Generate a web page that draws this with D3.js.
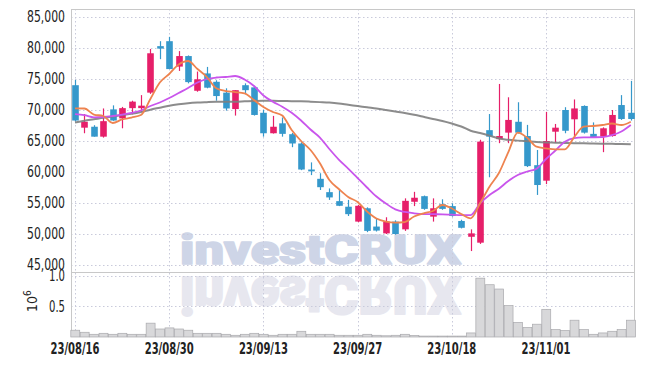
<!DOCTYPE html>
<html>
<head>
<meta charset="utf-8">
<script src="https://cdn.jsdelivr.net/npm/d3@7"></script>
<style>
  body { margin: 0; background: #fff; }
  svg { display: block; }
  .tick-label { font-family: "Liberation Sans Narrow", "DejaVu Sans Condensed", sans-serif; font-size: 15px; fill: #222; }
</style>
</head>
<body>
<svg></svg>
<script>
// trading days shown (yy/mm/dd)
const dates = [
  "23/08/16", "23/08/17", "23/08/18", "23/08/21", "23/08/22", "23/08/23", "23/08/24", "23/08/25", "23/08/28", "23/08/29",
  "23/08/30", "23/08/31", "23/09/01", "23/09/04", "23/09/05", "23/09/06", "23/09/07", "23/09/08", "23/09/11", "23/09/12",
  "23/09/13", "23/09/14", "23/09/15", "23/09/18", "23/09/19", "23/09/20", "23/09/21", "23/09/22", "23/09/25", "23/09/26",
  "23/09/27", "23/10/04", "23/10/05", "23/10/06", "23/10/10", "23/10/11", "23/10/12", "23/10/13", "23/10/16", "23/10/17",
  "23/10/18", "23/10/19", "23/10/20", "23/10/23", "23/10/24", "23/10/25", "23/10/26", "23/10/27", "23/10/30", "23/10/31",
  "23/11/01", "23/11/02", "23/11/03", "23/11/06", "23/11/07", "23/11/08", "23/11/09", "23/11/10", "23/11/13", "23/11/14"
];

const opens = [
  74000, 67150, 67300, 65700, 70100, 68650, 70300, 70300, 72800, 80300,
  81100, 77000, 78700, 73100, 75900, 74550, 72800, 70150, 74000, 73650,
  69550, 66250, 67850, 66100, 64600, 60400, 58900, 56750, 55300, 54400,
  52000, 54150, 51200, 50100, 52000, 50750, 55200, 56100, 52800, 54800,
  54500, 52100, 49550, 48600, 66750, 65300, 66350, 68100, 65800, 61100,
  58600, 66500, 70000, 68500, 70650, 66150, 65700, 65800, 70800, 69550
];
const highs = [
  74850, 69350, 67550, 70250, 70750, 70500, 71500, 72400, 79850, 81100,
  81800, 79500, 78800, 76200, 76950, 74800, 73500, 73200, 74300, 73900,
  70000, 69050, 68800, 66300, 64800, 61550, 59800, 57350, 57100, 55500,
  54700, 54300, 52500, 52700, 52200, 55750, 56800, 56200, 55750, 55600,
  54950, 52300, 50750, 65200, 69350, 74200, 72050, 71250, 67600, 63550,
  69700, 67750, 70450, 71700, 70750, 68000, 67200, 70000, 72400, 74700
];
const lows = [
  68150, 66250, 65700, 65550, 68250, 67050, 69300, 69700, 72600, 78200,
  76600, 76300, 74300, 72950, 73500, 71500, 69900, 69100, 72700, 69100,
  65700, 66200, 65700, 64000, 60300, 59500, 57100, 55500, 54500, 52900,
  51900, 50300, 50400, 50000, 49900, 50500, 54500, 53900, 52000, 53900,
  52800, 50900, 47250, 48400, 59150, 64650, 64650, 66200, 60800, 56300,
  58050, 64700, 66250, 65700, 66200, 65500, 63200, 65700, 68400, 68300
];
const closes = [
  68300, 68100, 65700, 68200, 68300, 70300, 71350, 70700, 79150, 79900,
  76600, 78700, 74500, 74950, 73600, 72250, 70250, 73200, 73200, 69200,
  66250, 67300, 66150, 64600, 60400, 60100, 57550, 55900, 54550, 53200,
  54550, 50500, 50550, 52000, 50000, 55350, 55850, 54050, 54150, 54050,
  52900, 51000, 50100, 64900, 65700, 65800, 68400, 66350, 60950, 57900,
  65000, 67150, 66650, 70250, 66350, 65600, 67050, 69200, 68550, 68550
];

// moving averages as drawn (5, 10 and 60 day)
const ma5 = [
  70270, 70240, 69270, 69030, 67900, 68470, 68790, 69190, 71770, 74430,
  75810, 77340, 77900, 76610, 75320, 73500, 73060, 72900, 72690, 71610,
  70480, 69680, 69110, 66770, 65000, 63550, 61400, 58710, 57260, 55970,
  55160, 53630, 52500, 52010, 51850, 51930, 52820, 53340, 53710, 54680,
  54110, 53220, 52530, 54950, 57630, 59840, 63220, 66340, 65520, 64080,
  63820, 63660, 63660, 65640, 67310, 67420, 67580, 67820, 67580, 68110
];
const ma10 = [
  69350, 69160, 68820, 68870, 69030, 69240, 69520, 69920, 70640, 71210,
  71930, 72740, 73550, 74430, 75000, 75240, 75320, 75480, 74920, 73870,
  72340, 71340, 70530, 69560, 68310, 66850, 65560, 63710, 62010, 60560,
  59030, 57500, 56050, 54920, 53980, 53550, 53340, 53220, 53190, 53170,
  53110, 53060, 53060, 54950, 56290, 57310, 58550, 59510, 60080, 60530,
  62100, 63470, 64890, 65480, 65580, 65600, 65640, 65930, 66530, 67580
];
const ma60 = [
  67980, 68270, 68500, 68740, 68950, 69190, 69400, 69680, 70050, 70370,
  70690, 70920, 71100, 71210, 71270, 71320, 71340, 71350, 71400, 71450,
  71480, 71480, 71450, 71430, 71400, 71340, 71270, 71190, 71050, 70840,
  70640, 70430, 70230, 70000, 69760, 69520, 69240, 68900, 68550, 68230,
  67820, 67340, 66660, 66290, 65870, 65400, 65190, 65060, 64950, 64840,
  64770, 64730, 64680, 64640, 64630, 64600, 64570, 64540, 64520, 64470
];

// volume in millions of shares
const volumes = [
  0.110, 0.077, 0.044, 0.060, 0.044, 0.060, 0.044, 0.044, 0.225, 0.130,
  0.148, 0.130, 0.110, 0.060, 0.060, 0.060, 0.044, 0.028, 0.044, 0.060,
  0.044, 0.028, 0.044, 0.044, 0.093, 0.044, 0.044, 0.044, 0.028, 0.028,
  0.028, 0.044, 0.028, 0.020, 0.028, 0.044, 0.025, 0.015, 0.015, 0.015,
  0.015, 0.015, 0.066, 0.957, 0.850, 0.780, 0.510, 0.236, 0.154, 0.208,
  0.450, 0.120, 0.105, 0.273, 0.120, 0.044, 0.066, 0.093, 0.120, 0.273
];

const dateTicks = ["23/08/16", "23/08/30", "23/09/13", "23/09/27", "23/10/18", "23/11/01"];
const priceTicks = [45000, 50000, 55000, 60000, 65000, 70000, 75000, 80000, 85000];
const volumeTicks = [0.5, 1.0];

const width = 645;
const height = 366;

const svg = d3.select("svg").attr("width", width).attr("height", height);

const panel = { left: 71, right: 635, top: 9, split: 273, bottom: 337 };

const data = dates.map((d, i) => ({
  date: d, open: opens[i], high: highs[i], low: lows[i], close: closes[i], volume: volumes[i]
}));

// scales
const xScale = d3.scaleBand().domain(dates).range([70.3, 635.5]).padding(0);
const xMid = (date) => xScale(date) + xScale.bandwidth() / 2;
const xPix = (date) => Math.round(xMid(date)) + 0.5;

const yPrice = d3.scaleLinear().domain([45000, 85000]).range([265, 17]);
const yVol = d3.scaleLinear().domain([0, 1]).range([panel.bottom, 275.5]);

const upColor = "#e61f69";
const downColor = "#3598cb";
const gridColor = "#c9cadb";

// clip for the price panel
svg.append("clipPath").attr("id", "price-clip")
  .append("rect").attr("x", panel.left).attr("y", panel.top)
  .attr("width", panel.right - panel.left).attr("height", panel.split - panel.top);

// watermark and its reflection
const mark = svg.append("g")
  .attr("font-family", "Roboto, 'DejaVu Sans', sans-serif")
  .attr("font-weight", 900)
  .attr("font-size", 41)
  .attr("stroke-width", 1.6)
  .attr("stroke-linejoin", "round");
mark.append("text")
  .attr("x", 180).attr("y", 264.3)
  .attr("textLength", 281)
  .attr("lengthAdjust", "spacingAndGlyphs")
  .attr("fill", "#ced5e7").attr("stroke", "#ced5e7")
  .text("investCRUX");
mark.append("text")
  .attr("x", 180).attr("y", 264.3)
  .attr("transform", "translate(0,606.9) scale(1,-1.25)")
  .attr("textLength", 281)
  .attr("lengthAdjust", "spacingAndGlyphs")
  .attr("fill", "#e7e7ef").attr("stroke", "#e7e7ef")
  .text("investCRUX");

// grid lines
const grid = svg.append("g").attr("stroke", gridColor).attr("stroke-width", 1).attr("stroke-dasharray", "1.5,2.5");
grid.selectAll(".hp").data(priceTicks).enter().append("line")
  .attr("x1", panel.left).attr("x2", panel.right)
  .attr("y1", (d) => Math.round(yPrice(d)) + 0.5).attr("y2", (d) => Math.round(yPrice(d)) + 0.5);
grid.selectAll(".hv").data(volumeTicks).enter().append("line")
  .attr("x1", panel.left).attr("x2", panel.right)
  .attr("y1", (d) => Math.round(yVol(d)) + 0.5).attr("y2", (d) => Math.round(yVol(d)) + 0.5);
grid.selectAll(".vx").data(dateTicks).enter().append("line")
  .attr("x1", (d) => xPix(d)).attr("x2", (d) => xPix(d))
  .attr("y1", panel.top).attr("y2", panel.bottom);

// panel frame
const frame = svg.append("g").attr("stroke", "#c8c8c8").attr("stroke-width", 1).attr("fill", "none");
frame.append("line").attr("x1", panel.left).attr("x2", panel.right).attr("y1", panel.top + 0.5).attr("y2", panel.top + 0.5);
frame.append("line").attr("x1", panel.left).attr("x2", panel.right).attr("y1", panel.split - 0.5).attr("y2", panel.split - 0.5);
frame.append("line").attr("x1", panel.right - 0.5).attr("x2", panel.right - 0.5).attr("y1", panel.top).attr("y2", panel.bottom);
frame.append("line").attr("x1", panel.left + 0.5).attr("x2", panel.left + 0.5).attr("y1", panel.top).attr("y2", panel.bottom);

// volume bars
svg.append("g").selectAll("rect").data(data).enter().append("rect")
  .attr("x", (d) => xScale(d.date) + 0.5)
  .attr("y", (d) => yVol(d.volume))
  .attr("width", xScale.bandwidth() - 0.5)
  .attr("height", (d) => panel.bottom - yVol(d.volume))
  .attr("fill", "#d8d8da")
  .attr("stroke", "#a9a9ad")
  .attr("stroke-width", 0.7);

// candles
const priceG = svg.append("g").attr("clip-path", "url(#price-clip)");
const bodyW = 6.6;
const candleColor = (d) => (d.close >= d.open ? upColor : downColor);

priceG.append("g").selectAll("line").data(data).enter().append("line")
  .attr("x1", (d) => xPix(d.date)).attr("x2", (d) => xPix(d.date))
  .attr("y1", (d) => yPrice(d.high)).attr("y2", (d) => yPrice(d.low))
  .attr("stroke", candleColor).attr("stroke-width", 1.2);

priceG.append("g").selectAll("rect").data(data).enter().append("rect")
  .attr("x", (d) => xPix(d.date) - bodyW / 2)
  .attr("y", (d) => yPrice(Math.max(d.open, d.close)))
  .attr("width", bodyW)
  .attr("height", (d) => Math.max(1.5, Math.abs(yPrice(d.open) - yPrice(d.close))))
  .attr("fill", candleColor);

// moving averages
const maLine = (values) => d3.line()
  .x((d, i) => xMid(dates[i]))
  .y((d) => yPrice(d))
  .curve(d3.curveMonotoneX)(values);

priceG.append("path").attr("d", maLine(ma60)).attr("fill", "none").attr("stroke", "#7f7f7f").attr("stroke-width", 2).attr("stroke-opacity", 0.9);
priceG.append("path").attr("d", maLine(ma10)).attr("fill", "none").attr("stroke", "#c955ec").attr("stroke-width", 1.8);
priceG.append("path").attr("d", maLine(ma5)).attr("fill", "none").attr("stroke", "#ee834f").attr("stroke-width", 1.8);

// axis labels (narrow face squeezed to the reference widths)
const fmt = d3.format(",");
svg.append("g").selectAll("text").data(priceTicks).enter().append("text")
  .attr("class", "tick-label")
  .attr("x", 65).attr("y", (d) => yPrice(d))
  .attr("dy", "0.36em")
  .attr("text-anchor", "end")
  .attr("textLength", 38)
  .attr("lengthAdjust", "spacingAndGlyphs")
  .text((d) => fmt(d));

svg.append("g").selectAll("text").data(volumeTicks).enter().append("text")
  .attr("class", "tick-label")
  .attr("x", 65).attr("y", (d) => yVol(d))
  .attr("dy", "0.36em")
  .attr("text-anchor", "end")
  .attr("textLength", 16)
  .attr("lengthAdjust", "spacingAndGlyphs")
  .text((d) => d3.format(".1f")(d));

const unit = svg.append("text")
  .attr("class", "tick-label")
  .attr("transform", "translate(37,312) rotate(-90)")
  .style("font-size", "14px");
unit.append("tspan").text("10");
unit.append("tspan").attr("dy", -6).style("font-size", "10px").text("6");

svg.append("g").selectAll("text").data(dateTicks).enter().append("text")
  .attr("class", "tick-label")
  .attr("x", (d) => xMid(d)).attr("y", 354)
  .attr("text-anchor", "middle")
  .attr("font-weight", "bold")
  .attr("textLength", 49)
  .attr("lengthAdjust", "spacingAndGlyphs")
  .text((d) => d);
</script>
</body>
</html>
